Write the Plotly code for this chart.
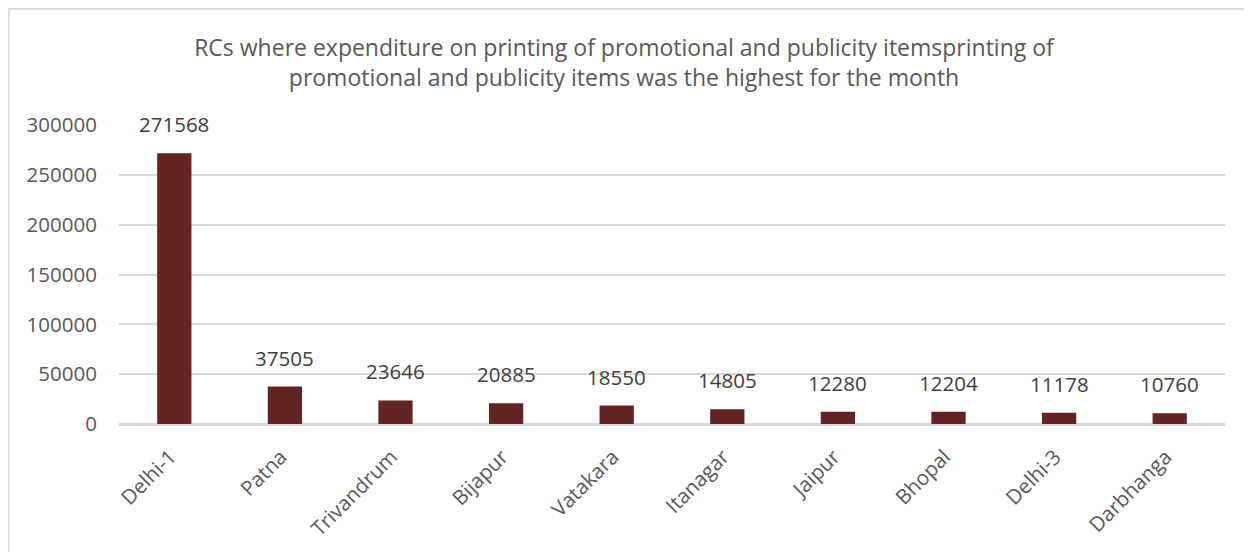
import plotly.graph_objects as go

categories = ["Delhi-1", "Patna", "Trivandrum", "Bijapur", "Vatakara",
              "Itanagar", "Jaipur", "Bhopal", "Delhi-3", "Darbhanga"]
values = [271568, 37505, 23646, 20885, 18550, 14805, 12280, 12204, 11178, 10760]
y_ticks = [0, 50000, 100000, 150000, 200000, 250000, 300000]
title_text = ("RCs where expenditure on printing of promotional and publicity itemsprinting of<br>"
              "promotional and publicity items was the highest for the month")

W, H = 1252, 552
OFF = 8  # page body margin offset
L, R, T, B = 119 - OFF, 27 + OFF, 125 - OFF, 127.5 + OFF
pw, ph = W - L - R, H - T - B

FONT = "Open Sans"
GRAY = "#595959"

fig = go.Figure()
fig.add_trace(go.Bar(
    x=categories, y=values,
    marker=dict(color="#632523", line=dict(width=0)),
    hoverinfo="x+y",
))

for c, v in zip(categories, values):
    fig.add_annotation(x=c, y=v, text=str(v), showarrow=False,
                       yanchor="bottom", yshift=13,
                       font=dict(family=FONT, size=20.5, color="#404040"))

# chart frame (top and left border lines)
fx0 = (0.5 - L) / pw
fy0 = (H - B - 0.5) / ph
fig.add_shape(type="line", xref="paper", yref="paper",
              x0=fx0, x1=(W - L) / pw + 0.01, y0=fy0, y1=fy0,
              line=dict(color="#d9d9d9", width=2))
fig.add_shape(type="line", xref="paper", yref="paper",
              x0=fx0, x1=fx0, y0=fy0, y1=-B / ph - 0.05,
              line=dict(color="#d9d9d9", width=2))

fig.update_layout(
    width=W, height=H,
    margin=dict(l=L, r=R, t=T, b=B, pad=0),
    paper_bgcolor="white", plot_bgcolor="white",
    bargap=0.69,
    showlegend=False,
    title=dict(text=title_text, x=616 / W, xanchor="center",
               yref="container", y=1 - 48 / H, yanchor="top",
               font=dict(family=FONT, size=23, color=GRAY)),
    xaxis=dict(tickangle=-45, tickfont=dict(family=FONT, size=20.5, color=GRAY),
               showgrid=False, showline=True, linecolor="#d9d9d9", linewidth=1.5,
               ticks="outside", ticklen=11, tickcolor="rgba(0,0,0,0)",
               ticklabelshift=-4),
    yaxis=dict(range=[0, 300000], tickvals=y_ticks, tickformat="d",
               tickfont=dict(family=FONT, size=20.5, color=GRAY),
               showgrid=True, gridcolor="#d9d9d9", gridwidth=1.5,
               zeroline=True, zerolinecolor="#d9d9d9", zerolinewidth=1.5,
               showline=False, ticks="outside", ticklen=17, tickcolor="rgba(0,0,0,0)"),
)

fig.write_html("out.html")
